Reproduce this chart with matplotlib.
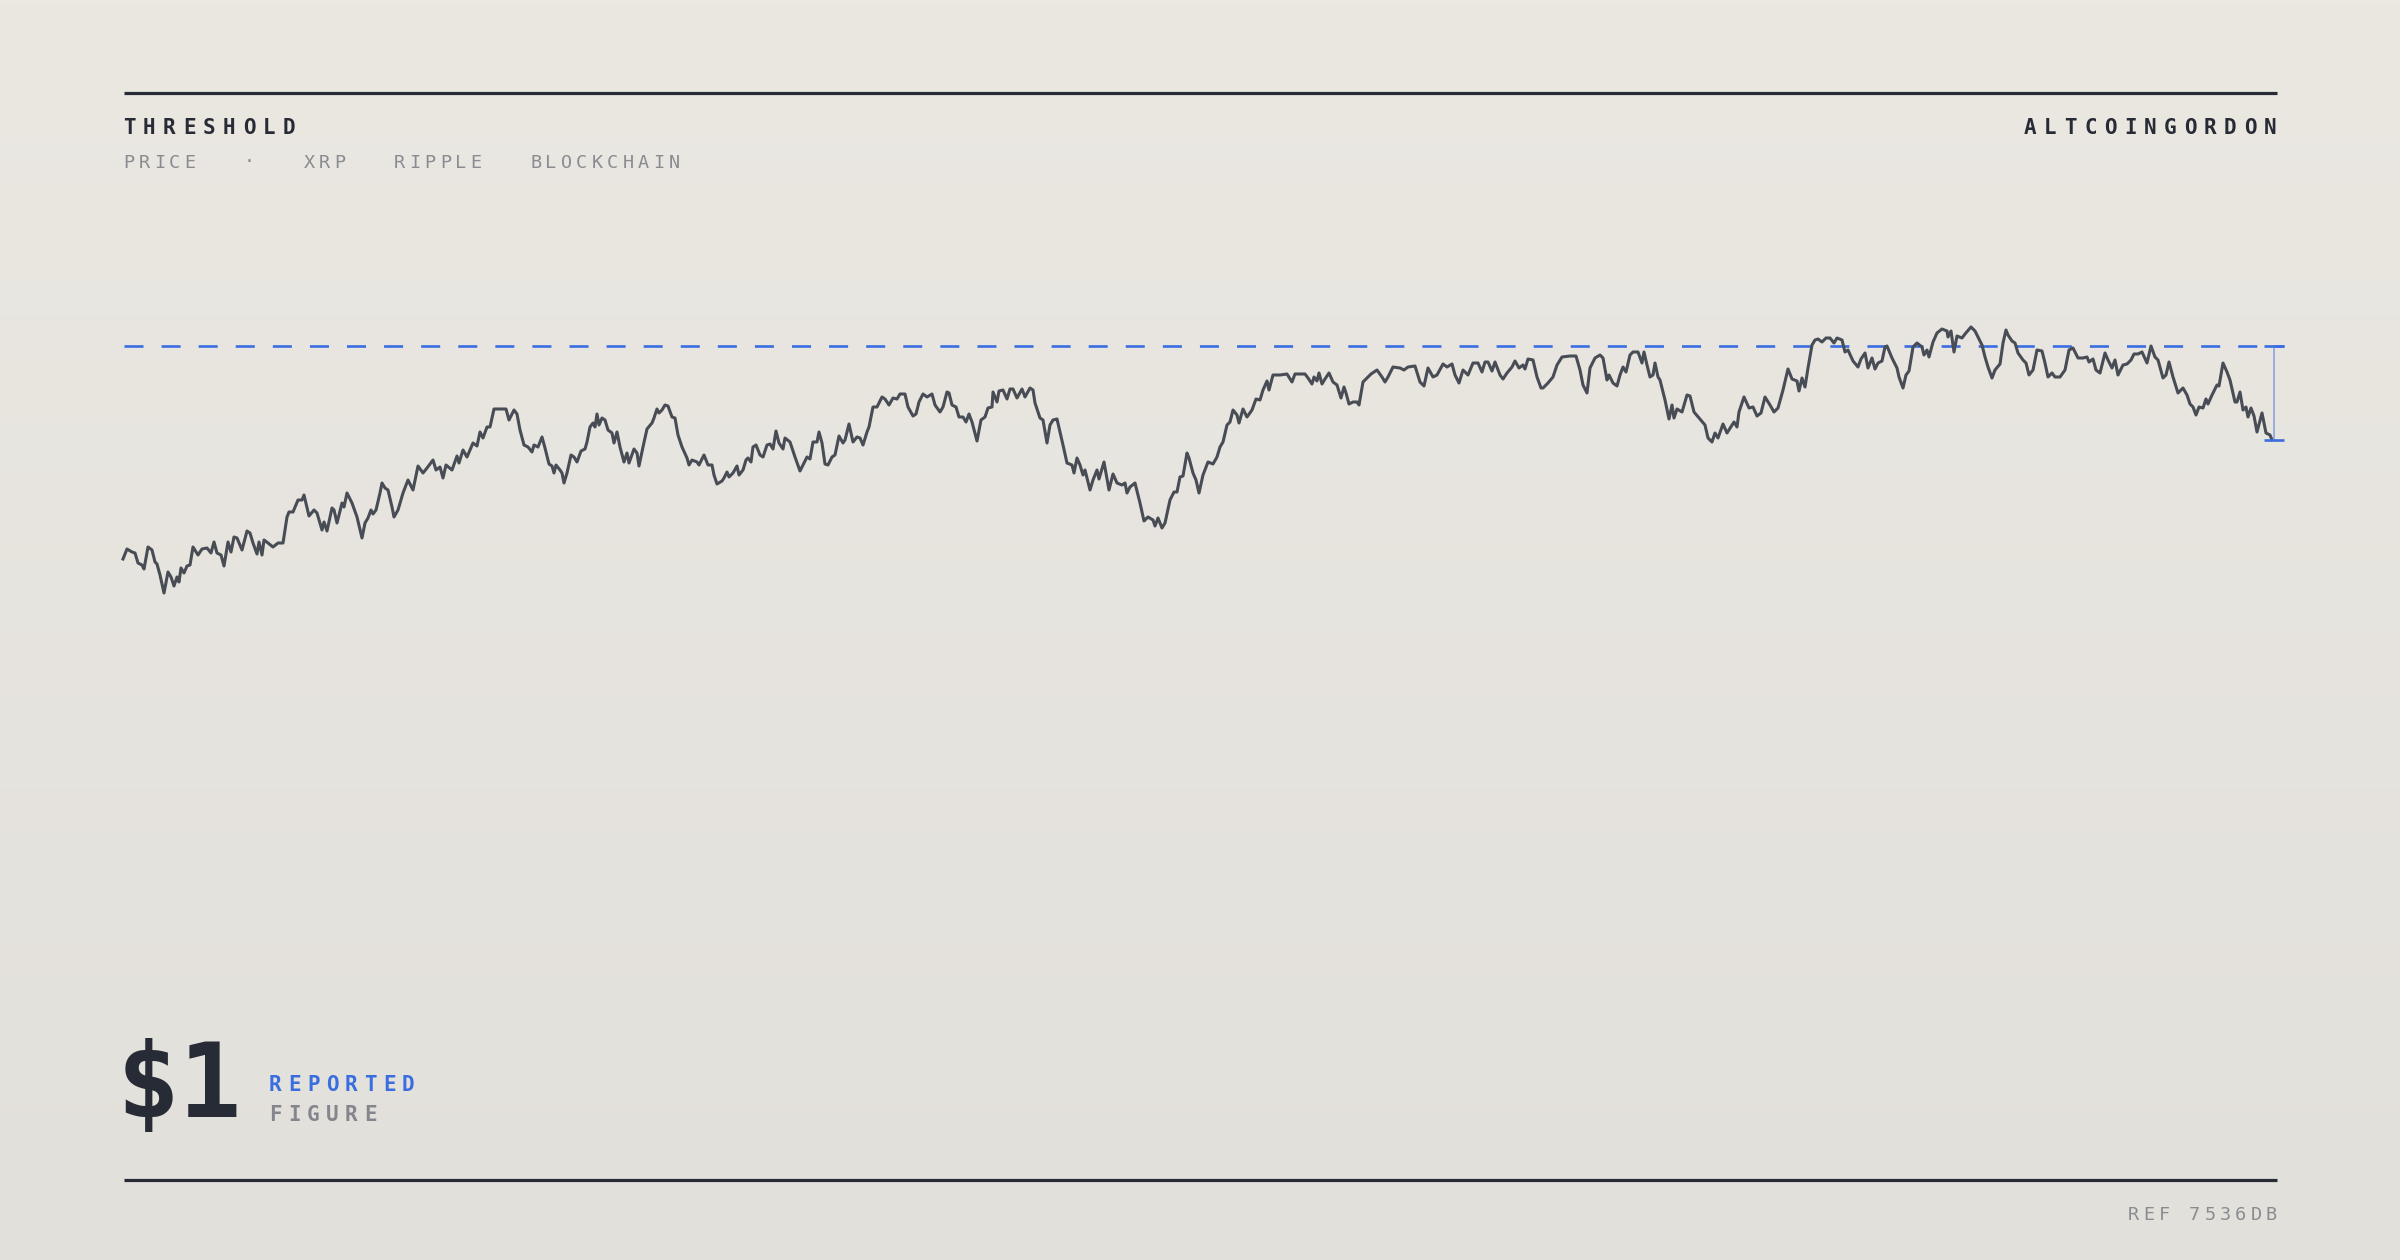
import numpy as np
import matplotlib.pyplot as plt
from matplotlib.colors import LinearSegmentedColormap

W, H = 2400, 1260

# XRP price readings (day offset, USD)
days = [0, 4, 9, 12, 15, 19, 21, 25, 29, 32,
        34, 37, 41, 45, 48, 51, 54, 56, 58, 61,
        64, 67, 70, 75, 79, 84, 88, 91, 94, 98,
        101, 105, 108, 111, 114, 119, 124, 127, 130, 134,
        136, 139, 141, 145, 150, 155, 160, 164, 166, 170,
        175, 179, 181, 186, 191, 194, 199, 201, 204, 209,
        211, 214, 219, 221, 224, 229, 234, 239, 242, 245,
        248, 250, 253, 257, 259, 262, 265, 269, 271, 275,
        280, 285, 290, 295, 300, 304, 310, 313, 317, 320,
        323, 329, 334, 336, 340, 344, 350, 354, 357, 360,
        364, 367, 371, 377, 383, 386, 391, 394, 397, 401,
        405, 409, 411, 415, 419, 422, 426, 429, 431, 433,
        437, 439, 441, 444, 448, 451, 454, 458, 462, 464,
        467, 470, 472, 474, 476, 479, 482, 485, 489, 491,
        494, 497, 501, 504, 506, 511, 514, 516, 520, 524,
        529, 531, 534, 536, 539, 542, 545, 549, 552, 555,
        559, 564, 566, 569, 574, 576, 581, 585, 589, 591,
        594, 599, 601, 604, 606, 610, 614, 616, 620, 623,
        625, 628, 630, 633, 637, 640, 644, 647, 650, 653,
        656, 660, 662, 667, 672, 677, 680, 684, 687, 690,
        694, 696, 699, 702, 705, 709, 712, 716, 720, 722,
        726, 730, 734, 737, 740, 744, 746, 750, 754, 759,
        762, 766, 770, 774, 777, 782, 785, 790, 793, 796,
        800, 804, 809, 812, 817, 820, 824, 826, 829, 833,
        836, 840, 843, 846, 849, 854, 858, 862, 865, 869,
        870, 874, 876, 880, 884, 887, 890, 894, 899, 902,
        907, 910, 912, 917, 920, 924, 927, 930, 934, 940,
        944, 949, 951, 954, 957, 960, 962, 967, 970, 974,
        976, 981, 986, 990, 994, 999, 1002, 1004, 1007, 1012,
        1017, 1021, 1025, 1030, 1032, 1035, 1039, 1042, 1047, 1051,
        1054, 1057, 1060, 1064, 1066, 1070, 1073, 1076, 1080, 1085,
        1090, 1094, 1097, 1100, 1104, 1107, 1110, 1114, 1116, 1120,
        1124, 1129, 1133, 1137, 1140, 1144, 1146, 1150, 1157, 1164,
        1169, 1172, 1177, 1182, 1185, 1189, 1191, 1194, 1196, 1199,
        1202, 1206, 1210, 1214, 1218, 1221, 1223, 1226, 1230, 1234,
        1236, 1240, 1244, 1248, 1254, 1259, 1262, 1265, 1270, 1277,
        1281, 1285, 1292, 1297, 1301, 1305, 1310, 1314, 1320, 1324,
        1329, 1332, 1336, 1340, 1345, 1350, 1355, 1359, 1362, 1365,
        1369, 1372, 1377, 1380, 1384, 1389, 1392, 1396, 1400, 1402,
        1405, 1410, 1414, 1418, 1420, 1425, 1430, 1434, 1439, 1447,
        1453, 1457, 1460, 1464, 1467, 1472, 1477, 1480, 1484, 1486,
        1490, 1494, 1497, 1500, 1503, 1507, 1510, 1515, 1519, 1521,
        1524, 1527, 1530, 1532, 1535, 1537, 1542, 1546, 1549, 1551,
        1554, 1559, 1564, 1567, 1571, 1577, 1582, 1585, 1589, 1592,
        1595, 1600, 1604, 1609, 1611, 1614, 1616, 1621, 1626, 1630,
        1634, 1638, 1642, 1647, 1651, 1655, 1660, 1665, 1669, 1674,
        1676, 1679, 1682, 1685, 1689, 1692, 1695, 1699, 1703, 1707,
        1711, 1714, 1719, 1722, 1725, 1730, 1735, 1738, 1742, 1745,
        1749, 1752, 1755, 1759, 1762, 1764, 1769, 1774, 1776, 1780,
        1783, 1786, 1790, 1794, 1799, 1801, 1804, 1806, 1810, 1814,
        1819, 1824, 1825, 1828, 1831, 1834, 1839, 1842, 1848, 1852,
        1855, 1859, 1862, 1865, 1869, 1872, 1877, 1880, 1883, 1885,
        1889, 1892, 1895, 1900, 1903, 1906, 1910, 1914, 1919, 1922,
        1925, 1929, 1932, 1937, 1942, 1946, 1950, 1955, 1960, 1964,
        1966, 1970, 1973, 1977, 1982, 1985, 1989, 1992, 1995, 2000,
        2004, 2008, 2011, 2015, 2019, 2024, 2028, 2032, 2035, 2040,
        2043, 2046, 2050, 2055, 2060, 2064, 2067, 2070, 2073, 2076,
        2080, 2083, 2085, 2089, 2094, 2096, 2100, 2104, 2107, 2112,
        2114, 2117, 2120, 2123, 2125, 2128, 2131, 2134, 2139, 2143,
        2147, 2149]

price = [0.787, 0.797, 0.794, 0.793, 0.783, 0.781, 0.777, 0.799, 0.796, 0.784,
         0.782, 0.771, 0.753, 0.774, 0.769, 0.760, 0.769, 0.764, 0.778, 0.773,
         0.780, 0.781, 0.799, 0.791, 0.797, 0.798, 0.793, 0.804, 0.793, 0.791,
         0.780, 0.804, 0.794, 0.809, 0.808, 0.796, 0.815, 0.813, 0.803, 0.792,
         0.804, 0.791, 0.806, 0.803, 0.799, 0.803, 0.803, 0.829, 0.834, 0.834,
         0.846, 0.846, 0.851, 0.830, 0.836, 0.833, 0.816, 0.824, 0.815, 0.838,
         0.836, 0.823, 0.843, 0.839, 0.853, 0.843, 0.829, 0.808, 0.823, 0.828,
         0.836, 0.832, 0.836, 0.853, 0.863, 0.858, 0.856, 0.839, 0.829, 0.836,
         0.853, 0.866, 0.856, 0.880, 0.873, 0.878, 0.886, 0.876, 0.879, 0.868,
         0.881, 0.876, 0.890, 0.883, 0.896, 0.889, 0.903, 0.900, 0.914, 0.908,
         0.919, 0.919, 0.937, 0.937, 0.937, 0.926, 0.936, 0.932, 0.916, 0.901,
         0.899, 0.894, 0.901, 0.899, 0.909, 0.898, 0.882, 0.880, 0.873, 0.881,
         0.876, 0.873, 0.863, 0.873, 0.891, 0.889, 0.884, 0.895, 0.897, 0.904,
         0.919, 0.923, 0.919, 0.932, 0.921, 0.928, 0.926, 0.916, 0.913, 0.903,
         0.914, 0.899, 0.884, 0.893, 0.883, 0.897, 0.893, 0.880, 0.899, 0.917,
         0.923, 0.928, 0.937, 0.933, 0.936, 0.941, 0.940, 0.929, 0.928, 0.911,
         0.899, 0.888, 0.881, 0.886, 0.884, 0.881, 0.891, 0.881, 0.881, 0.871,
         0.862, 0.865, 0.868, 0.874, 0.869, 0.873, 0.880, 0.871, 0.876, 0.886,
         0.888, 0.884, 0.899, 0.901, 0.891, 0.889, 0.901, 0.902, 0.897, 0.915,
         0.903, 0.897, 0.908, 0.904, 0.889, 0.875, 0.881, 0.889, 0.887, 0.904,
         0.904, 0.914, 0.903, 0.882, 0.881, 0.889, 0.891, 0.910, 0.903, 0.906,
         0.922, 0.904, 0.909, 0.908, 0.901, 0.914, 0.919, 0.939, 0.939, 0.949,
         0.947, 0.941, 0.948, 0.947, 0.952, 0.952, 0.939, 0.930, 0.932, 0.944,
         0.952, 0.949, 0.952, 0.941, 0.934, 0.939, 0.954, 0.953, 0.941, 0.939,
         0.929, 0.929, 0.924, 0.932, 0.924, 0.905, 0.926, 0.929, 0.938, 0.939,
         0.954, 0.944, 0.955, 0.956, 0.947, 0.957, 0.957, 0.948, 0.957, 0.949,
         0.958, 0.956, 0.943, 0.928, 0.926, 0.903, 0.921, 0.926, 0.927, 0.901,
         0.883, 0.881, 0.873, 0.888, 0.881, 0.871, 0.876, 0.856, 0.866, 0.876,
         0.867, 0.884, 0.856, 0.872, 0.863, 0.861, 0.863, 0.853, 0.859, 0.863,
         0.843, 0.825, 0.829, 0.826, 0.820, 0.828, 0.818, 0.823, 0.846, 0.854,
         0.854, 0.869, 0.870, 0.893, 0.888, 0.873, 0.866, 0.853, 0.871, 0.884,
         0.882, 0.889, 0.899, 0.904, 0.921, 0.924, 0.936, 0.931, 0.923, 0.937,
         0.929, 0.936, 0.947, 0.946, 0.956, 0.965, 0.956, 0.971, 0.971, 0.972,
         0.964, 0.972, 0.972, 0.972, 0.968, 0.962, 0.969, 0.965, 0.973, 0.962,
         0.967, 0.973, 0.964, 0.961, 0.948, 0.959, 0.953, 0.942, 0.944, 0.944,
         0.941, 0.964, 0.968, 0.972, 0.976, 0.969, 0.964, 0.969, 0.979, 0.978,
         0.976, 0.979, 0.980, 0.964, 0.960, 0.978, 0.969, 0.971, 0.982, 0.979,
         0.982, 0.971, 0.963, 0.976, 0.971, 0.983, 0.983, 0.974, 0.984, 0.984,
         0.975, 0.984, 0.971, 0.967, 0.973, 0.979, 0.985, 0.978, 0.981, 0.977,
         0.987, 0.986, 0.969, 0.958, 0.958, 0.963, 0.969, 0.981, 0.989, 0.990,
         0.990, 0.976, 0.961, 0.953, 0.978, 0.988, 0.991, 0.988, 0.966, 0.971,
         0.963, 0.960, 0.971, 0.979, 0.974, 0.991, 0.994, 0.994, 0.983, 0.994,
         0.981, 0.969, 0.971, 0.983, 0.969, 0.966, 0.946, 0.927, 0.941, 0.928,
         0.937, 0.934, 0.951, 0.950, 0.934, 0.927, 0.921, 0.908, 0.904, 0.913,
         0.908, 0.922, 0.913, 0.921, 0.924, 0.919, 0.934, 0.949, 0.938, 0.939,
         0.930, 0.933, 0.949, 0.941, 0.934, 0.938, 0.956, 0.977, 0.967, 0.965,
         0.955, 0.968, 0.959, 0.978, 1.001, 1.006, 1.007, 1.004, 1.008, 1.008,
         1.003, 1.008, 1.006, 0.994, 0.996, 0.985, 0.979, 0.987, 0.993, 0.978,
         0.988, 0.977, 0.983, 0.985, 0.999, 1.000, 0.988, 0.978, 0.969, 0.958,
         0.971, 0.975, 0.999, 1.003, 0.999, 0.991, 0.996, 0.989, 1.004, 1.013,
         1.017, 1.015, 1.009, 1.015, 0.994, 1.010, 1.008, 1.012, 1.019, 1.015,
         1.009, 1.001, 0.989, 0.979, 0.968, 0.976, 0.982, 1.003, 1.016, 1.011,
         1.005, 1.003, 0.993, 0.986, 0.983, 0.971, 0.976, 0.996, 0.995, 0.983,
         0.969, 0.973, 0.969, 0.969, 0.976, 0.996, 0.998, 0.988, 0.988, 0.989,
         0.984, 0.987, 0.976, 0.973, 0.993, 0.986, 0.978, 0.986, 0.971, 0.981,
         0.982, 0.986, 0.992, 0.992, 0.994, 0.983, 1.000, 0.989, 0.986, 0.968,
         0.971, 0.984, 0.969, 0.953, 0.958, 0.951, 0.942, 0.939, 0.931, 0.939,
         0.938, 0.947, 0.942, 0.951, 0.961, 0.960, 0.983, 0.974, 0.966, 0.944,
         0.944, 0.954, 0.936, 0.939, 0.929, 0.938, 0.930, 0.914, 0.933, 0.913,
         0.911, 0.906]

threshold = 1.00
tags = ["PRICE", "·", "XRP", "RIPPLE", "BLOCKCHAIN"]

INK = "#272b35"
GREY = "#8a8b91"
BLUE = "#3a6ee0"
MONO = "DejaVu Sans Mono"

plt.rcParams['lines.scale_dashes'] = False

fig = plt.figure(figsize=(24, 12.6), dpi=100)

# soft vertical background gradient
bg = fig.add_axes([0, 0, 1, 1], zorder=-10)
cmap = LinearSegmentedColormap.from_list("bg", ["#e2e0db", "#ebe8e2"])
bg.imshow(np.linspace(0, 1, 256)[:, None], aspect="auto", cmap=cmap,
          origin="lower", extent=[0, 1, 0, 1])
bg.axis("off")


def px(x, y):
    return x / W, 1 - y / H


def spaced(x, y, s, size, step, color, weight="normal"):
    # monospaced text with extra tracking, one glyph at a time
    for i, ch in enumerate(s):
        fx, fy = px(x + i * step, y)
        fig.text(fx, fy, ch, fontsize=size, color=color, fontweight=weight,
                 family=MONO, ha="left", va="baseline")


# rules
for yy in (92.5, 1180):
    fig.add_artist(plt.Line2D([124 / W, 2277 / W], [1 - yy / H] * 2,
                              color=INK, lw=2.3, solid_capstyle="butt"))

# header
spaced(123, 134.5, "THRESHOLD", 15, 20, INK, "bold")
spaced(2276 - 12 * 20 - 12, 134.5, "ALTCOINGORDON", 15, 20, INK, "bold")
x = 123
for tag in tags:
    spaced(x, 167.5, tag, 13.3, 15.4, GREY)
    x += len(tag) * 15.4 + 44

# main chart
ax = fig.add_axes([123 / W, 1 - 650 / H, 2162 / W, 350 / H])
ax.set_xlim(0, 2162)
ax.set_ylim(0.696, 1.046)
ax.axis("off")
ax.patch.set_alpha(0)

ax.plot(days, price, color="#484c55", lw=2.2, solid_joinstyle="round",
        clip_on=False, zorder=3)
ax.plot([1, 2161], [threshold, threshold], color=BLUE, lw=1.9,
        dashes=(13.7, 13.0), clip_on=False, zorder=2)

last = price[-1]
bar_x = days[-1] + 2
ax.plot([bar_x, bar_x], [threshold, last], color=BLUE, alpha=0.55, lw=1.2,
        clip_on=False, zorder=4)
for yv in (threshold, last):
    ax.plot([bar_x - 10, bar_x + 10], [yv, yv], color=BLUE, lw=1.9,
            solid_capstyle="butt", clip_on=False, zorder=4)

# big figure
fig.text(*px(117, 1117), "$1", fontsize=75, fontweight="bold", family=MONO,
         color=INK, ha="left", va="baseline")
spaced(269, 1091, "REPORTED", 15, 19, BLUE, "bold")
spaced(269, 1121, "FIGURE", 15, 19, "#85868d", "bold")

# footer
spaced(2128, 1220.5, "REF 7536DB", 13.3, 15.3, GREY)

fig.savefig("out.png", dpi=100)
